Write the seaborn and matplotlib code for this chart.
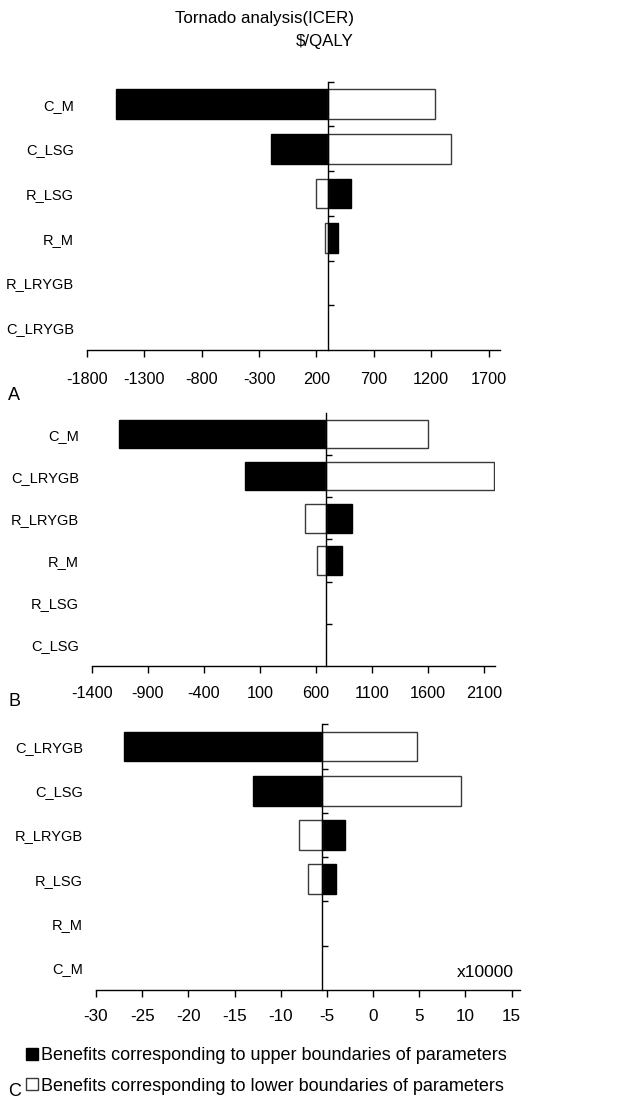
import numpy as np
import pandas as pd
import seaborn as sns
import matplotlib.pyplot as plt
from matplotlib.patches import Patch
from matplotlib.ticker import FixedLocator

# Panel A
A_PARAMS = ["C_M", "C_LSG", "R_LSG", "R_M", "R_LRYGB", "C_LRYGB"]
A_UPPER = [-1550, -200, 500, 390, np.nan, np.nan]
A_LOWER = [1230, 1370, 195, 275, np.nan, np.nan]
A_BASE = 305
A_TICKS = [-1800, -1300, -800, -300, 200, 700, 1200, 1700]

# Panel B
B_PARAMS = ["C_M", "C_LRYGB", "R_LRYGB", "R_M", "R_LSG", "C_LSG"]
B_UPPER = [-1160, -35, 920, 830, np.nan, np.nan]
B_LOWER = [1600, 2190, 500, 605, np.nan, np.nan]
B_BASE = 690
B_TICKS = [-1400, -900, -400, 100, 600, 1100, 1600, 2100]

# Panel C (x10000)
C_PARAMS = ["C_LRYGB", "C_LSG", "R_LRYGB", "R_LSG", "R_M", "C_M"]
C_UPPER = [-27, -13, -3, -4, np.nan, np.nan]
C_LOWER = [4.8, 9.5, -8, -7, np.nan, np.nan]
C_BASE = -5.5
C_TICKS = [-30, -25, -20, -15, -10, -5, 0, 5, 10, 15]

UPPER_LABEL = "Benefits corresponding to upper boundaries of parameters"
LOWER_LABEL = "Benefits corresponding to lower boundaries of parameters"

sns.set_theme(style="white", rc={
    "axes.edgecolor": "black", "xtick.color": "black", "ytick.color": "black",
    "text.color": "black", "axes.labelcolor": "black", "axes.unicode_minus": False,
})
plt.rcParams["font.family"] = ["Liberation Sans", "DejaVu Sans"]


def tornado(ax, params, upper, lower, base, ticks, xlim, tick_size, tick_pad, top_tick=True):
    df = pd.DataFrame({"param": params, "upper": upper, "lower": lower})
    df["upper_delta"] = df["upper"] - base
    df["lower_delta"] = df["lower"] - base
    hi = df.dropna(subset=["upper"])
    lo = df.dropna(subset=["lower"])
    sns.barplot(data=hi, x="upper_delta", y="param", order=params, color="black",
                edgecolor="black", linewidth=1, width=0.67, saturation=1,
                errorbar=None, ax=ax)
    sns.barplot(data=lo, x="lower_delta", y="param", order=params, color="white",
                edgecolor="#3a3a3a", linewidth=1, width=0.67, saturation=1,
                errorbar=None, ax=ax)
    # bars start at the base-case value, not at zero
    for bar in ax.patches:
        bar.set_x(bar.get_x() + base)
    ax.set_xlim(*xlim)
    ax.set_ylim(len(params) - 0.5, -0.5)
    ax.set_xlabel("")
    ax.set_ylabel("")
    ax.set_xticks(ticks, labels=[str(t) for t in ticks])
    ax.spines["left"].set_visible(False)
    ax.spines["top"].set_visible(False)
    ax.spines["right"].set_position(("data", base))
    for side in ("right", "bottom"):
        ax.spines[side].set_linewidth(1)
        ax.spines[side].set_color("black")
    first = -0.5 if top_tick else 0.5
    ax.yaxis.set_minor_locator(FixedLocator(np.arange(first, len(params) - 1, 1.0)))
    ax.tick_params(axis="y", which="major", left=False, right=False, length=0,
                   labelleft=True, labelright=False, pad=9.3, labelsize=10.5)
    ax.tick_params(axis="y", which="minor", left=False, right=True,
                   direction="out", length=4, width=1, labelright=False)
    ax.tick_params(axis="x", which="major", bottom=True, top=False, direction="out",
                   length=5, width=1, labelsize=tick_size, pad=tick_pad)


W, H = 619, 1101
fig = plt.figure(figsize=(W / 100, H / 100), dpi=100)


def px_axes(left, right, top, bottom):
    return fig.add_axes([left / W, 1 - bottom / H, (right - left) / W, (bottom - top) / H])


ax_a = px_axes(87, 500, 81.7, 350)
tornado(ax_a, A_PARAMS, A_UPPER, A_LOWER, A_BASE, A_TICKS, (-1800, 1800), 11.7, 11)

ax_b = px_axes(91.7, 495, 413.3, 665.7)
tornado(ax_b, B_PARAMS, B_UPPER, B_LOWER, B_BASE, B_TICKS, (-1400, 2195), 11.7, 9.5,
        top_tick=False)

ax_c = px_axes(96, 520, 724.3, 990)
tornado(ax_c, C_PARAMS, C_UPPER, C_LOWER, C_BASE, C_TICKS, (-30, 15.9), 12.3, 9)
ax_c.text(0.985, 0.065, "x10000", transform=ax_c.transAxes, ha="right",
          va="center", fontsize=12.5)

fig.text(354 / W, 1 - 11 / H, "Tornado analysis(ICER)\n$/QALY", ha="right", va="top",
         multialignment="right", fontsize=12.2, linespacing=1.7)

for letter, y in (("A", 395), ("B", 702), ("C", 1092)):
    fig.text(8 / W, 1 - y / H, letter, ha="left", va="center", fontsize=13)

handles = [Patch(facecolor="black", edgecolor="black", linewidth=1),
           Patch(facecolor="white", edgecolor="#3a3a3a", linewidth=1)]
fig.legend(handles, [UPPER_LABEL, LOWER_LABEL], loc="center left",
           bbox_to_anchor=(26 / W, 1 - 1071 / H), frameon=False, fontsize=13,
           handlelength=0.65, handleheight=0.65, handletextpad=0.2,
           labelspacing=0.74, borderpad=0, borderaxespad=0)

fig.savefig("out.png", dpi=100)
